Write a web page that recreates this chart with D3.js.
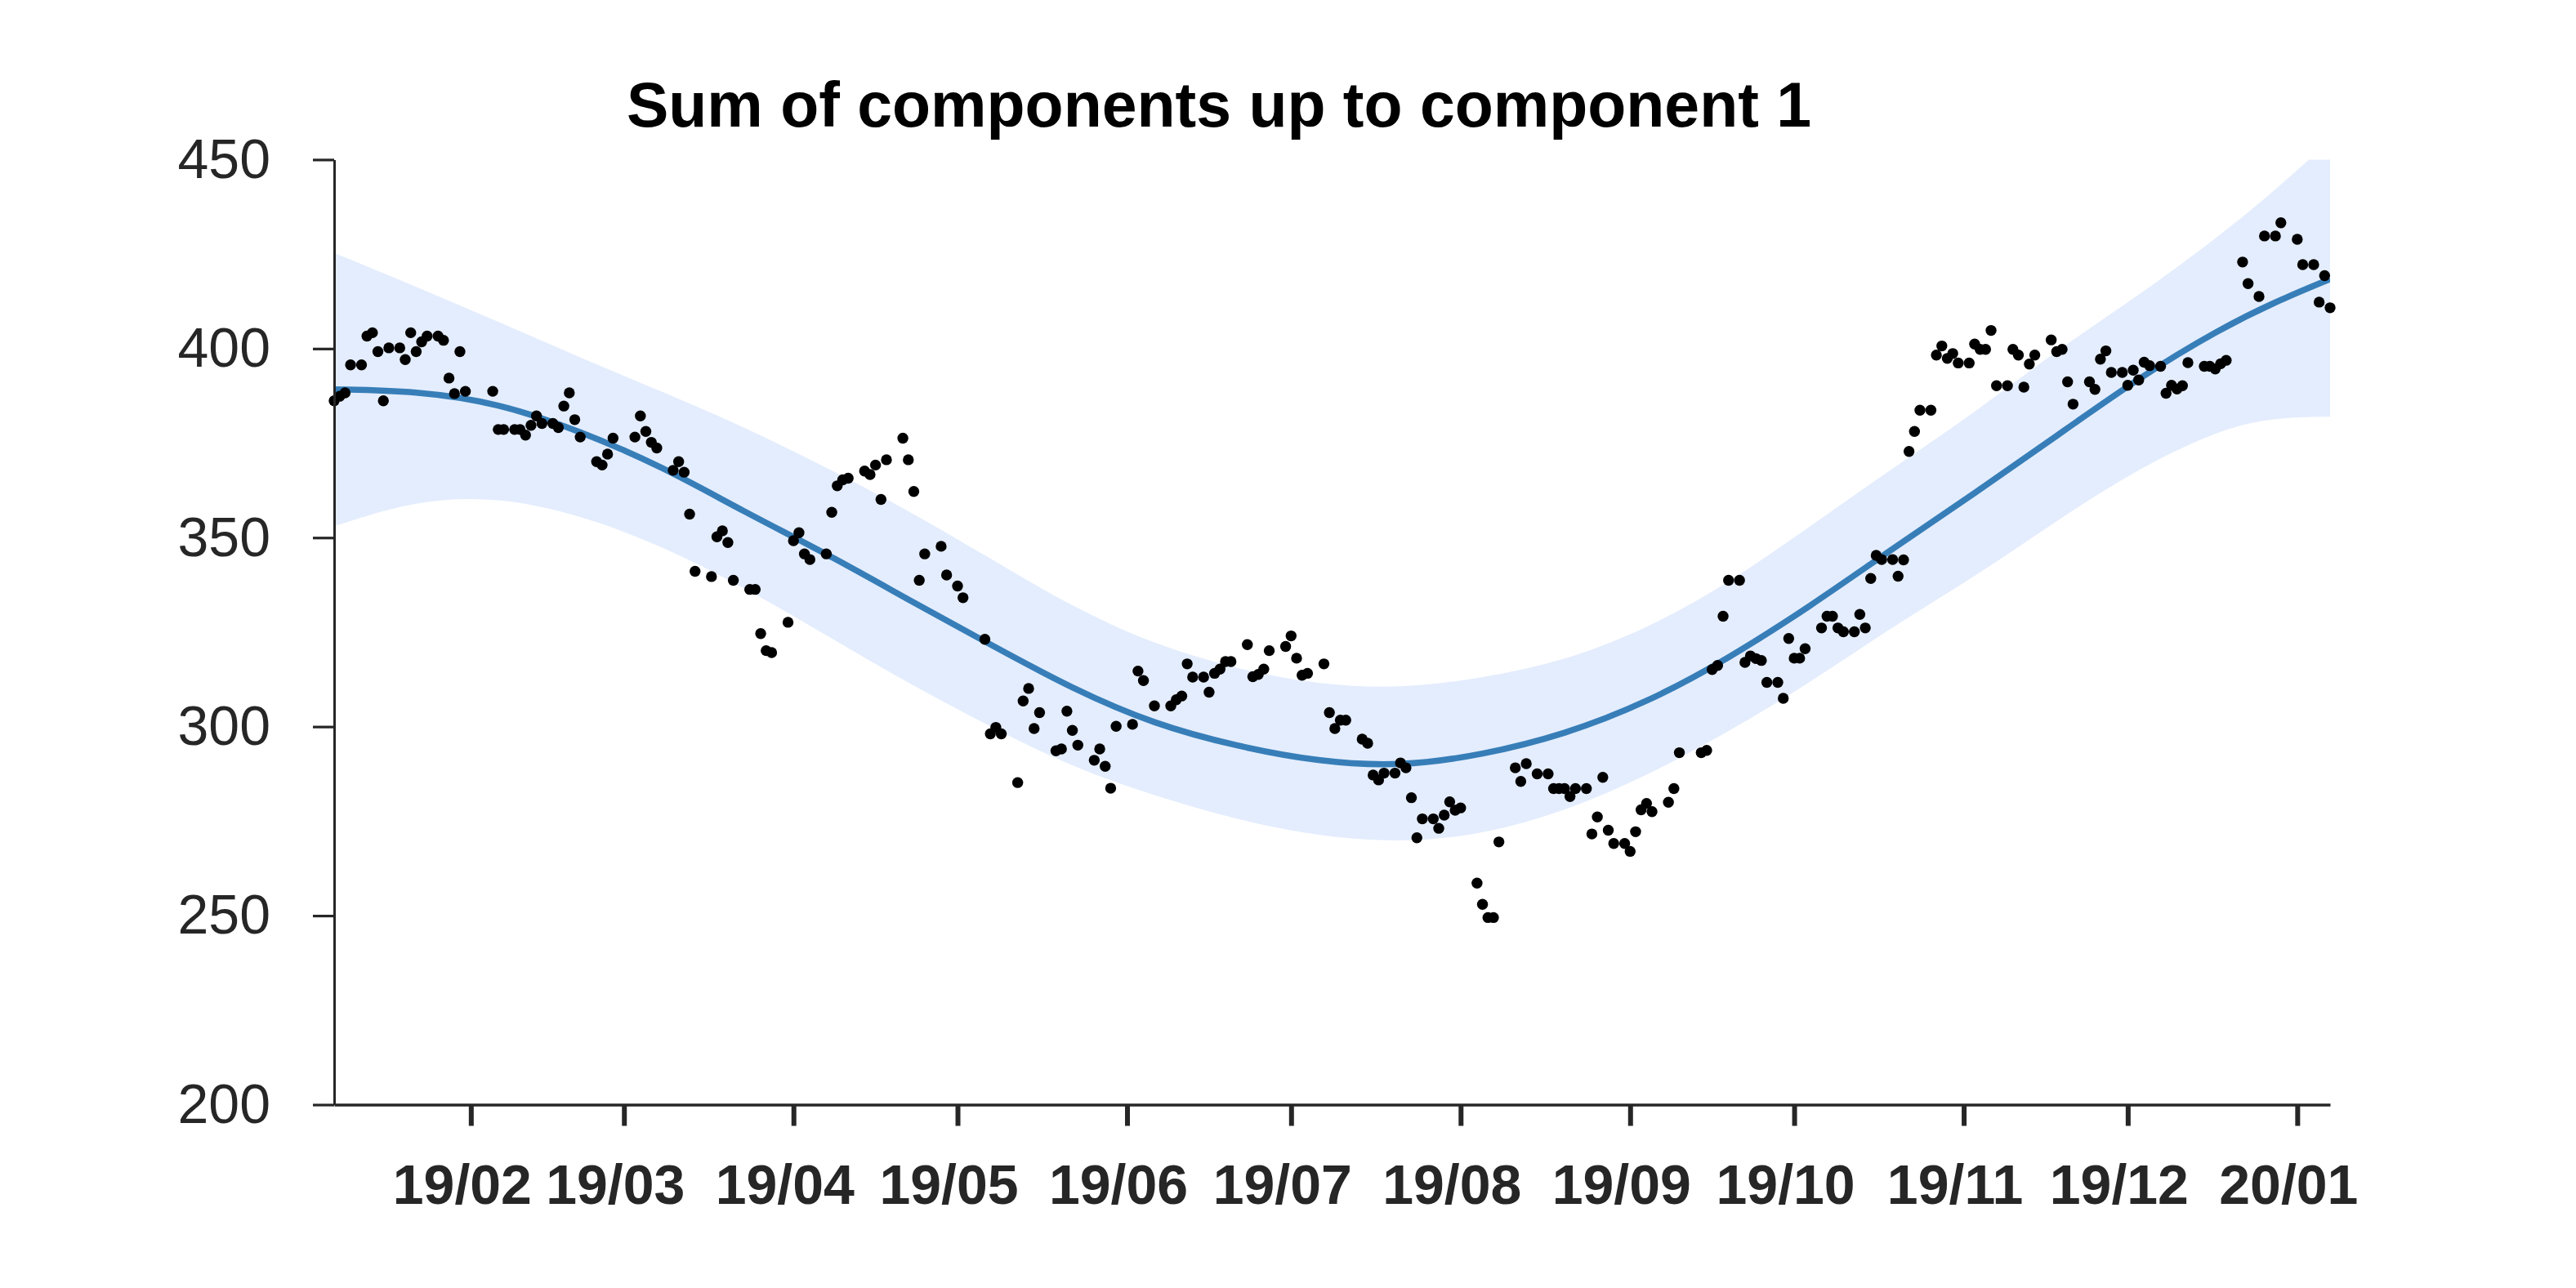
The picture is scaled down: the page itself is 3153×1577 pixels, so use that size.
<!DOCTYPE html>
<html lang="en">
<head>
<meta charset="utf-8">
<title>Sum of components up to component 1</title>
<script src="https://cdn.jsdelivr.net/npm/d3@7"></script>
<style>
body { margin: 0; background: #fff; }
text { font-family: "Liberation Sans", Arial, Helvetica, sans-serif; fill: #262626; }
</style>
</head>
<body>
<script>
// x values are days counted from startDate
var startDate = "2019-01-07";
var endDay = 365;

var obsDay = [
  0,1,2,3,5,6,7,8,9,10,
  12,13,14,15,16,17,19,20,21,22,
  23,24,29,30,31,33,34,35,36,37,
  38,40,41,42,43,44,45,48,49,50,
  51,55,56,57,58,59,62,63,64,65,
  66,69,70,71,72,73,76,77,78,79,
  80,83,84,85,86,87,90,91,92,93,
  94,97,98,99,100,101,104,105,106,107,
  108,111,112,114,115,119,120,121,122,125,
  126,127,128,129,132,133,134,135,136,139,
  140,141,142,143,146,147,148,150,153,154,
  155,156,157,159,160,161,162,163,164,167,
  168,169,170,171,174,175,176,177,178,181,
  182,183,184,185,188,189,190,191,192,194,
  195,196,197,198,199,201,202,203,204,205,
  206,209,210,211,212,213,216,217,218,220,
  222,223,224,225,226,227,229,230,231,232,
  233,234,236,237,238,239,240,241,244,245,
  246,250,251,252,253,254,255,257,258,259,
  260,261,262,264,265,266,267,268,269,272,
  273,274,275,276,278,279,280,281,282,283,
  285,286,287,288,289,290,292,293,294,295,
  296,297,299,300,301,302,303,304,306,307,
  308,309,310,311,314,315,316,317,318,321,
  322,323,324,325,327,328,329,330,331,332,
  334,335,336,337,338,339,342,343,344,345,
  346,349,350,352,353,355,356,359,360,362,
  363,364,365
];
var obsValue = [
  386.2,387.4,388.3,395.7,395.7,403.3,404.2,399.2,386.2,400.2,
  400.2,397.1,404.2,399.2,401.8,403.3,403.3,402.2,392.2,388.1,
  399.2,388.7,388.7,378.6,378.6,378.6,378.6,377.1,379.7,382.2,
  380.2,380.2,379.1,384.8,388.3,381.2,376.6,370.1,369.2,372.1,
  376.3,376.6,382.2,378.1,375.2,373.7,367.8,370.1,367.3,356.2,
  341.1,339.7,350.2,351.8,348.7,338.7,336.3,336.3,324.6,320.1,
  319.6,327.6,349.2,351.3,345.7,344.2,345.7,356.7,363.7,365.3,
  365.7,367.6,366.7,369.2,360.1,370.6,376.3,370.6,362.2,338.7,
  345.7,347.7,340.1,337.2,334.1,323.1,298.1,299.8,298.1,285.2,
  306.8,310.1,299.5,303.7,293.6,294.1,304.1,299.0,295.1,291.1,
  294.1,289.5,283.7,300.1,300.6,314.7,312.2,305.5,305.5,307.1,
  308.1,316.6,313.1,313.1,309.1,314.1,315.2,317.2,317.2,321.7,
  313.2,313.8,315.2,320.1,321.2,324.0,318.1,313.6,314.1,316.6,
  303.7,299.5,301.7,301.7,296.7,295.6,287.2,285.9,287.7,287.7,
  290.4,289.1,281.2,270.6,275.6,275.6,273.1,276.6,280.1,277.9,
  278.5,258.6,253.0,249.5,249.5,269.5,289.1,285.5,290.2,287.5,
  287.5,283.6,283.6,283.6,281.5,283.6,283.6,271.6,276.1,286.6,
  272.6,269.1,269.1,267.0,272.2,278.0,279.7,277.5,280.0,283.6,
  293.1,293.1,293.7,315.1,316.2,329.2,338.7,338.7,317.0,318.7,
  318.0,317.5,311.7,311.7,307.5,323.3,318.1,318.1,320.6,326.1,
  329.2,329.2,326.1,325.1,325.1,329.7,326.1,339.2,345.3,344.2,
  344.2,339.8,344.1,372.8,378.1,383.7,383.7,398.3,400.7,397.4,
  398.7,396.2,396.2,401.2,399.8,399.8,404.8,390.2,390.2,399.8,
  398.3,389.8,395.9,398.3,402.3,399.2,399.8,391.2,385.3,391.2,
  389.2,397.2,399.4,393.7,393.7,390.3,394.3,391.7,396.4,395.5,
  395.3,388.2,390.3,389.3,390.2,396.3,395.3,395.3,394.6,396.0,
  396.9,422.9,417.2,413.8,429.8,429.8,433.3,428.9,422.2,422.2,
  412.3,419.3,410.8
];

// fitted component and its band
var fitDay   = [0,15,30,45,60,75,90,105,120,135,150,165,180,195,210,225,240,255,270,285,300,315,330,345,355,365];
var fitValue = [389.2,388.8,385.6,378.2,368.8,356.8,345.8,333.6,321.7,310.0,300.6,294.8,290.7,289.4,292.5,297.9,306.3,318.0,331.9,347.1,361.7,376.9,392.3,405.3,412.4,418.4];
var fitLower = [353.0,360.0,360.8,356.0,347.8,336.8,324.2,311.4,300.0,289.2,281.7,275.4,270.9,269.3,271.4,277.5,286.9,298.6,311.7,326.5,339.6,354.5,368.4,378.8,381.8,382.0];
var fitUpper = [425.3,416.4,407.1,397.6,388.6,379.3,368.6,357.2,344.5,331.6,321.7,315.2,311.1,310.0,312.8,317.4,325.8,337.9,353.0,368.4,383.0,399.6,414.0,430.0,442.0,455.0];

var xTickDates  = ["2019-02-01","2019-03-01","2019-04-01","2019-05-01","2019-06-01","2019-07-01","2019-08-01","2019-09-01","2019-10-01","2019-11-01","2019-12-01","2020-01-01"];
var xTickLabels = ["19/02","19/03","19/04","19/05","19/06","19/07","19/08","19/09","19/10","19/11","19/12","20/01"];
var yTicks = [200, 250, 300, 350, 400, 450];
var title = "Sum of components up to component 1";

var W = 3153, H = 1577;
var plotL = 409, plotR = 2852, plotT = 195.4, plotB = 1352.5;

var parse = d3.timeParse("%Y-%m-%d");
var t0 = parse(startDate);
function dayDate(d) { return d3.timeDay.offset(t0, d); }

var x = d3.scaleTime()
          .domain([t0, dayDate(endDay)])
          .range([plotL, plotR]);
var y = d3.scaleLinear()
          .domain([200, 450])
          .range([plotB, plotT]);

var svg = d3.select("body")
            .append("svg")
            .attr("width", W)
            .attr("height", H);

svg.append("defs").append("clipPath")
   .attr("id", "plot")
   .append("rect")
   .attr("x", plotL)
   .attr("y", plotT)
   .attr("width", plotR - plotL)
   .attr("height", plotB - plotT);

var fit = fitDay.map(function(d, i) {
  return { date: dayDate(d), v: fitValue[i], lo: fitLower[i], hi: fitUpper[i] };
});

var area = d3.area()
             .x(function(d) { return x(d.date); })
             .y0(function(d) { return y(d.lo); })
             .y1(function(d) { return y(d.hi); })
             .curve(d3.curveBasis);
var line = d3.line()
             .x(function(d) { return x(d.date); })
             .y(function(d) { return y(d.v); })
             .curve(d3.curveBasis);

var g = svg.append("g").attr("clip-path", "url(#plot)");

g.append("path")
 .datum(fit)
 .attr("d", area)
 .attr("fill", "rgb(228,237,253)");

g.append("path")
 .datum(fit)
 .attr("d", line)
 .attr("fill", "none")
 .attr("stroke", "#377eb8")
 .attr("stroke-width", 7.5);

svg.append("g")
   .selectAll("circle")
   .data(obsDay)
   .enter()
   .append("circle")
   .attr("cx", function(d) { return x(dayDate(d)); })
   .attr("cy", function(d, i) { return y(obsValue[i]); })
   .attr("r", 6.7)
   .attr("fill", "#000");

// x axis
var xAxis = d3.axisBottom(x)
              .tickValues(xTickDates.map(parse))
              .tickFormat(function(d, i) { return xTickLabels[i]; })
              .tickSize(26)
              .tickSizeOuter(0);
var gx = svg.append("g")
            .attr("transform", "translate(0," + plotB + ")")
            .call(xAxis);
gx.select(".domain").attr("stroke", "#262626").attr("stroke-width", 3.5);
gx.selectAll(".tick line").attr("stroke", "#262626").attr("stroke-width", 6);
gx.selectAll(".tick text")
  .attr("y", 121.5)
  .attr("dy", 0)
  .attr("dx", -11)
  .style("font-size", "68px")
  .style("font-weight", "bold")
  .style("fill", "#262626");

// y axis
var yAxis = d3.axisLeft(y)
              .tickValues(yTicks)
              .tickSize(26)
              .tickPadding(52)
              .tickSizeOuter(0);
var gy = svg.append("g")
            .attr("transform", "translate(" + plotL + ",0)")
            .call(yAxis);
gy.select(".domain").attr("stroke", "#262626").attr("stroke-width", 3);
gy.selectAll(".tick line").attr("stroke", "#262626").attr("stroke-width", 3.2);
gy.selectAll(".tick text")
  .style("font-size", "68px")
  .style("fill", "#262626");

svg.append("text")
   .attr("x", 1492)
   .attr("y", 155)
   .attr("text-anchor", "middle")
   .style("font-size", "77px")
   .style("font-weight", "bold")
   .style("fill", "#000")
   .text(title);
</script>
</body>
</html>
